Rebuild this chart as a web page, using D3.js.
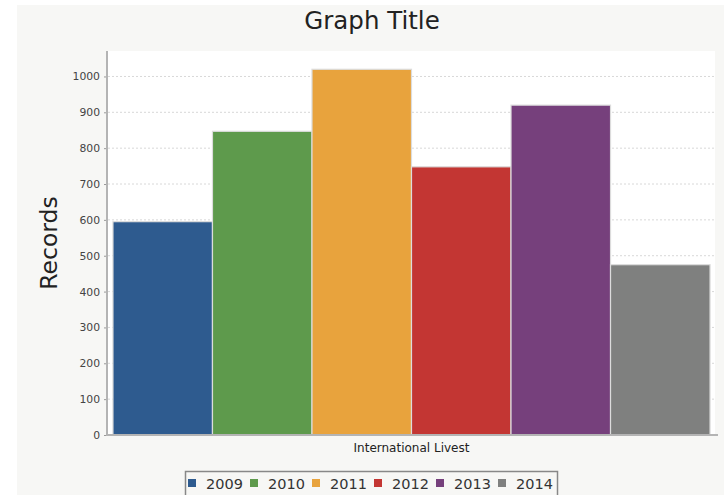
<!DOCTYPE html>
<html>
<head>
<meta charset="utf-8">
<script src="https://cdn.jsdelivr.net/npm/d3@7"></script>
<style>
html,body{margin:0;padding:0;background:#fff;}
svg{display:block;font-family:"DejaVu Sans",sans-serif;}
</style>
</head>
<body>
<svg id="chart" width="724" height="495"></svg>
<script>
const categories = ["International Livest"];
const series = ["2009", "2010", "2011", "2012", "2013", "2014"];
const values = [595, 847, 1020, 748, 920, 475];
const colors = ["#2e5b8f", "#5e9a4c", "#e8a33d", "#c33633", "#76407c", "#7f807f"];
const yTicks = [0, 100, 200, 300, 400, 500, 600, 700, 800, 900, 1000];

const svg = d3.select("#chart");
const W = 724, H = 495;

// panel background
svg.append("rect").attr("x", 17).attr("y", 5).attr("width", W - 17).attr("height", H - 5).attr("fill", "#f7f7f5");

const plot = {left: 108, right: 715, top: 51, bottom: 435};

svg.append("rect").attr("x", plot.left).attr("y", plot.top)
  .attr("width", plot.right - plot.left).attr("height", plot.bottom - plot.top).attr("fill", "#ffffff");

const y = d3.scaleLinear().domain([0, d3.max(values) * 1.05]).range([plot.bottom, plot.top]);
const x0 = d3.scaleBand().domain(categories).range([plot.left, plot.right]).paddingInner(0).paddingOuter(0.0083);
const x1 = d3.scaleBand().domain(series).range([0, x0.bandwidth()]).padding(0);

// gridlines
svg.append("g").selectAll("line").data(yTicks.filter(d => d > 0)).join("line")
  .attr("x1", plot.left).attr("x2", plot.right)
  .attr("y1", d => y(d)).attr("y2", d => y(d))
  .attr("stroke", "#d8d8d8").attr("stroke-width", 1).attr("stroke-dasharray", "2,2");

// bars
const g = svg.append("g").attr("transform", `translate(${x0(categories[0])},0)`);
g.selectAll("rect").data(series).join("rect")
  .attr("x", d => x1(d))
  .attr("y", (d, i) => y(values[i]))
  .attr("width", x1.bandwidth())
  .attr("height", (d, i) => plot.bottom - y(values[i]))
  .attr("fill", (d, i) => colors[i])
  .attr("stroke", "#dcdcdc").attr("stroke-width", 1.2);

// y axis
const yAxis = d3.axisLeft(y).tickValues(yTicks).tickSize(3).tickPadding(4).tickFormat(d3.format("d"));
const ya = svg.append("g").attr("transform", `translate(${plot.left - 1},0)`).call(yAxis);
ya.select(".domain").remove();
ya.selectAll(".tick line").attr("stroke", "#999");
ya.selectAll(".tick text").attr("fill", "#444").style("font-size", "10.8px").style("font-family", "DejaVu Sans, sans-serif");
svg.append("line").attr("x1", plot.left - 1).attr("x2", plot.left - 1).attr("y1", plot.top).attr("y2", plot.bottom + 1)
  .attr("stroke", "#b4b4b4").attr("stroke-width", 2);

// x axis
const xAxis = d3.axisBottom(x0).tickSize(0).tickPadding(8);
const xa = svg.append("g").attr("transform", `translate(0,${plot.bottom})`).call(xAxis);
xa.select(".domain").remove();
xa.selectAll(".tick text").attr("fill", "#222").style("font-size", "12px").style("font-family", "DejaVu Sans, sans-serif");
svg.append("line").attr("x1", plot.left - 2).attr("x2", plot.right + 3).attr("y1", plot.bottom).attr("y2", plot.bottom)
  .attr("stroke", "#b4b4b4").attr("stroke-width", 2);

// title
svg.append("text").attr("x", 372).attr("y", 29).attr("text-anchor", "middle")
  .style("font-size", "24.5px").attr("fill", "#222").text("Graph Title");

// y label
svg.append("text").attr("transform", `translate(57,243) rotate(-90)`).attr("text-anchor", "middle")
  .style("font-size", "23.5px").attr("fill", "#222").text("Records");

// legend
const leg = svg.append("g");
leg.append("rect").attr("x", 185.5).attr("y", 471.5).attr("width", 372).attr("height", 30)
  .attr("fill", "#f7f7f5").attr("stroke", "#888").attr("stroke-width", 1.5);
const li = leg.selectAll("g").data(series).join("g")
  .attr("transform", (d, i) => `translate(${188 + i * 62},0)`);
li.append("rect").attr("x", 0).attr("y", 479).attr("width", 8).attr("height", 8).attr("fill", (d, i) => colors[i]);
li.append("text").attr("x", 18).attr("y", 489).style("font-size", "14.5px").attr("fill", "#333").text(d => d);
</script>
</body>
</html>
